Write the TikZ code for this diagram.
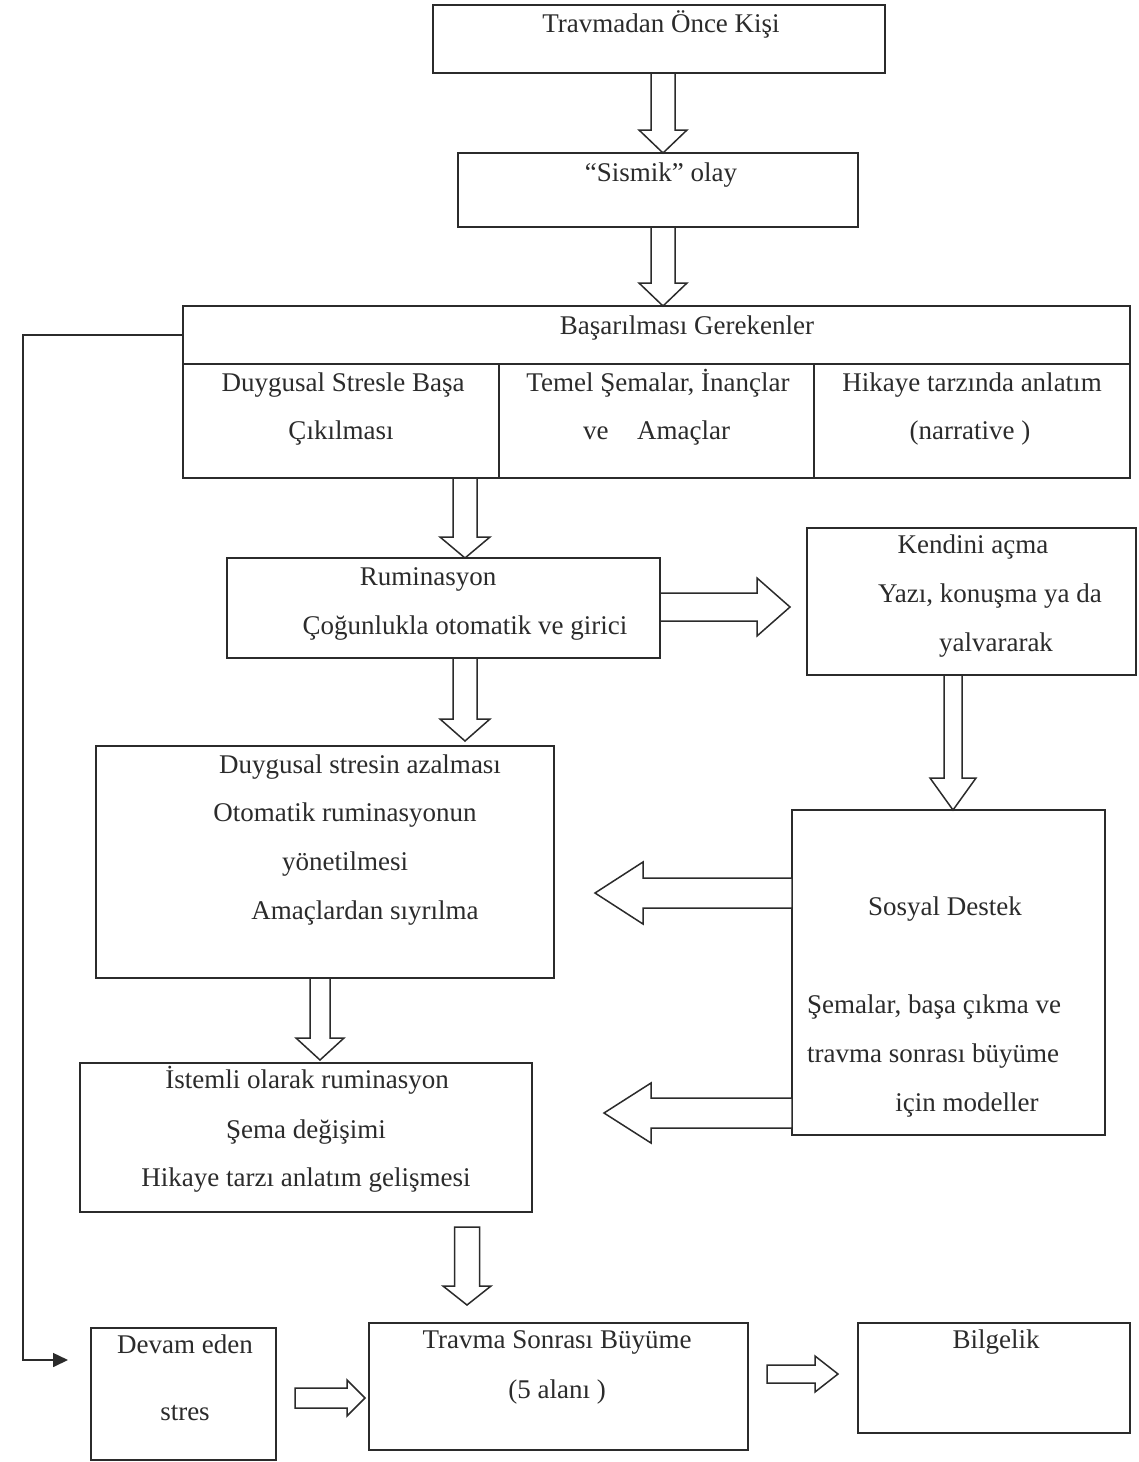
\documentclass[tikz,border=0pt]{standalone}
\usepackage{fontspec}
\setmainfont{Liberation Serif}
\usetikzlibrary{calc,arrows.meta}
\definecolor{ink}{HTML}{2B2B2B}
\tikzset{
  box/.style={draw=ink, line width=1.6pt, rectangle, inner sep=0pt, outer sep=0pt, anchor=north west},
  txt/.style={inner sep=0pt, anchor=mid, yshift=-4pt, text=ink, font=\fontsize{27}{32}\selectfont},
  txtl/.style={txt, anchor=mid west},
  barrow/.style={draw=ink, line width=1.5pt, fill=white, line join=miter},
  feed/.style={draw=ink, line width=1.6pt, -{Triangle[length=15pt,width=14pt]}}
}
% block arrow from #1 to #2, half shaft width #3, half head width #4, head length #5
\newcommand\blockarrow[5]{%
  \coordinate (tmpC) at ($(#2)!#5pt!(#1)$);
  \draw[barrow] ($(#1)!#3pt!90:(#2)$) -- ($(tmpC)!#3pt!90:(#2)$) -- ($(tmpC)!#4pt!90:(#2)$)
    -- (#2) -- ($(tmpC)!#4pt!-90:(#2)$) -- ($(tmpC)!#3pt!-90:(#2)$) -- ($(#1)!#3pt!-90:(#2)$) -- cycle;
}
\begin{document}
\begin{tikzpicture}[x=1pt,y=-1pt]
\useasboundingbox (0,0) rectangle (1139,1462);
\fill[white] (0,0) rectangle (1139,1462);

% boxes
\node[box, minimum width=452pt, minimum height=68pt] (b1) at (433,5) {};
\node[box, minimum width=400pt, minimum height=74pt] (b2) at (458,153) {};
\node[box, minimum width=947pt, minimum height=58pt] (hdr) at (183,306) {};
\node[box, minimum width=316pt, minimum height=114pt] (c1) at (183,364) {};
\node[box, minimum width=315pt, minimum height=114pt] (c2) at (499,364) {};
\node[box, minimum width=316pt, minimum height=114pt] (c3) at (814,364) {};
\node[box, minimum width=433pt, minimum height=100pt] (b4) at (227,558) {};
\node[box, minimum width=329pt, minimum height=147pt] (b5) at (807,528) {};
\node[box, minimum width=458pt, minimum height=232pt] (b6) at (96,746) {};
\node[box, minimum width=313pt, minimum height=325pt] (b7) at (792,810) {};
\node[box, minimum width=452pt, minimum height=149pt] (b8) at (80,1063) {};
\node[box, minimum width=185pt, minimum height=132pt] (b9) at (91,1328) {};
\node[box, minimum width=379pt, minimum height=127pt] (b10) at (369,1323) {};
\node[box, minimum width=272pt, minimum height=110pt] (b11) at (858,1323) {};

% texts
\node[txt] (t1) at (661,26) {Travmadan Önce Kişi};
\node[txt] (t2) at (661,175) {“Sismik” olay};
\node[txt] (t3) at (687,328) {Başarılması Gerekenler};
\node[txt] (t4) at (343,385) {Duygusal Stresle Başa};
\node[txt] (t5) at (341,433) {Çıkılması};
\node[txt] (t6) at (658,385) {Temel Şemalar, İnançlar};
\node[txtl] (t7a) at (583,433) {ve};
\node[txtl] (t7b) at (637,433) {Amaçlar};
\node[txt] (t8) at (972,385) {Hikaye tarzında anlatım};
\node[txt] (t9) at (970,433) {(narrative )};
\node[txt] (t10) at (428,579) {Ruminasyon};
\node[txt] (t11) at (465,628) {Çoğunlukla otomatik ve girici};
\node[txt] (t12) at (973,547) {Kendini açma};
\node[txt] (t13) at (990,596) {Yazı, konuşma ya da};
\node[txt] (t14) at (996,645) {yalvararak};
\node[txt] (t15) at (360,767) {Duygusal stresin azalması};
\node[txt] (t16) at (345,815) {Otomatik ruminasyonun};
\node[txt] (t17) at (345,864) {yönetilmesi};
\node[txt] (t18) at (365,913) {Amaçlardan sıyrılma};
\node[txt] (t19) at (945,909) {Sosyal Destek};
\node[txtl] (t20) at (807,1007) {Şemalar, başa çıkma ve};
\node[txtl] (t21) at (807,1056) {travma sonrası büyüme};
\node[txt] (t22) at (967,1105) {için modeller};
\node[txt] (t23) at (307,1082) {İstemli olarak ruminasyon};
\node[txt] (t24) at (306,1132) {Şema değişimi};
\node[txt] (t25) at (306,1180) {Hikaye tarzı anlatım gelişmesi};
\node[txt] (t26) at (185,1347) {Devam eden};
\node[txt] (t27) at (185,1414) {stres};
\node[txt] (t28) at (557,1342) {Travma Sonrası Büyüme};
\node[txt] (t29) at (557,1392) {(5 alanı )};
\node[txt] (t30) at (996,1342) {Bilgelik};

% arrow end points
\coordinate (a1s) at ($(b1.south)+(4,0)$);
\coordinate (a1e) at ($(b2.north)+(5,0)$);
\coordinate (a2s) at ($(b2.south)+(5,0)$);
\coordinate (a2e) at ($(hdr.north west)+(480,0)$);
\coordinate (a3s) at ($(c1.south west)+(282,0)$);
\coordinate (a3e) at ($(b4.north west)+(238,0)$);
\coordinate (a4s) at ($(b4.east)+(0,-1)$);
\coordinate (a4e) at ($(b5.west)+(-17,5.5)$);
\coordinate (a5s) at ($(b4.south west)+(238,0)$);
\coordinate (a5e) at ($(b6.north west)+(369,-5)$);
\coordinate (a6s) at ($(b5.south west)+(146,0)$);
\coordinate (a6e) at ($(b7.north west)+(161,0)$);
\coordinate (a7s) at ($(b7.north west)+(0,83)$);
\coordinate (a7e) at ($(b6.east)+(41,31)$);
\coordinate (a8s) at ($(b7.south west)+(0,-22)$);
\coordinate (a8e) at ($(b8.east)+(72,-24.5)$);
\coordinate (a9s) at ($(b6.south west)+(224,0)$);
\coordinate (a9e) at ($(b8.north west)+(240,-3)$);
\coordinate (a10s) at ($(b8.south west)+(387,15)$);
\coordinate (a10e) at ($(b10.north west)+(98,-18)$);
\coordinate (a11s) at ($(b9.east)+(19,4)$);
\coordinate (a11e) at ($(b10.west)+(-4,11.5)$);
\coordinate (a12s) at ($(b10.east)+(19,-12.5)$);
\coordinate (a12e) at ($(b11.west)+(-20,-4)$);

\blockarrow{a1s}{a1e}{12}{24}{23}
\blockarrow{a2s}{a2e}{12}{24}{23}
\blockarrow{a3s}{a3e}{12}{25}{21}
\blockarrow{a4s}{a4e}{14}{29}{33}
\blockarrow{a5s}{a5e}{12}{25}{22}
\blockarrow{a6s}{a6e}{9}{23}{32}
\blockarrow{a7s}{a7e}{15}{31}{48}
\blockarrow{a8s}{a8e}{15}{30}{47}
\blockarrow{a9s}{a9e}{10}{24}{22}
\blockarrow{a10s}{a10e}{12.5}{24}{19}
\blockarrow{a11s}{a11e}{10}{18}{18}
\blockarrow{a12s}{a12e}{9}{18}{23}

% feedback line
\coordinate (lc) at (23,1360);
\coordinate (le) at (68,1360);
\draw[feed] (hdr.west) -- (hdr.west -| lc) -- (lc) -- (le);
\end{tikzpicture}
\end{document}
